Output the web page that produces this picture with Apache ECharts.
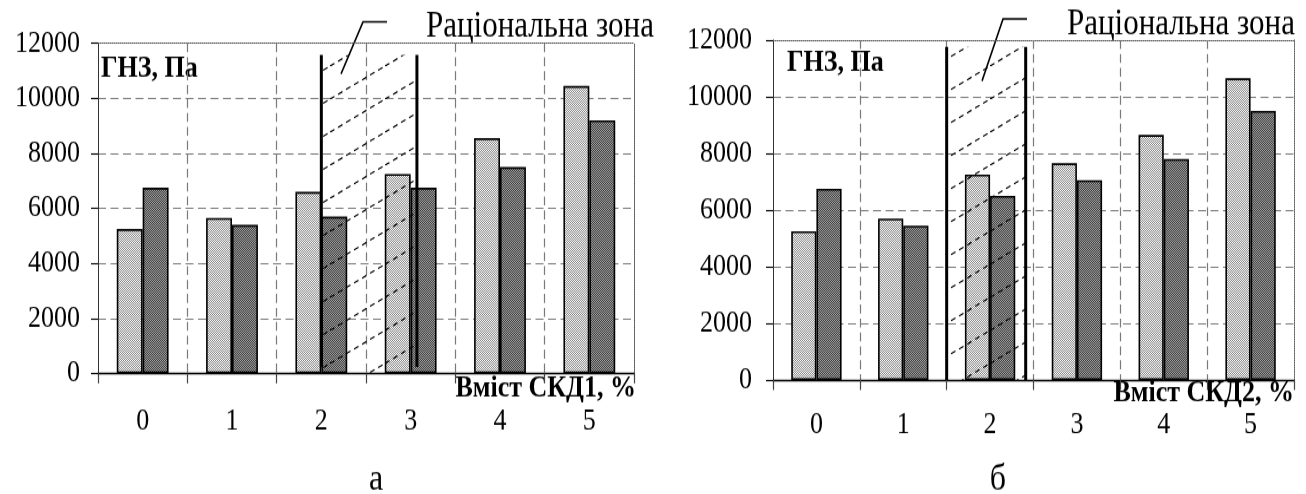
<!DOCTYPE html>
<html>
<head>
<meta charset="utf-8">
<script src="https://cdn.jsdelivr.net/npm/echarts@6/dist/echarts.min.js"></script>
<style>
  html, body { margin: 0; padding: 0; background: #fff; width: 1306px; height: 494px; }
  /* the figure is set in a slightly tall, narrow type: drawn at 1/1.18 height, then stretched */
  #chart { width: 1306px; height: 418.6px; transform: scaleY(1.18); transform-origin: 0 0; }
</style>
</head>
<body>
<div id="chart"></div>
<script>
// Shear stress (ГНЗ, Па) versus additive content, two additives
const categories = ['0', '1', '2', '3', '4', '5'];
const yTicks = { min: 0, max: 12000, step: 2000 };

// СКД1
const skd1First = [5250, 5650, 6600, 7250, 8550, 10450];
const skd1Second = [6750, 5400, 5700, 6750, 7500, 9200];
// СКД2
const skd2First = [5250, 5700, 7250, 7650, 8650, 10650];
const skd2Second = [6750, 5450, 6500, 7050, 7800, 9500];

// rational zone: [from %, to %, hatch bottom, top, boundary line bottom]
const zoneSkd1 = [2.0, 3.07, 0, 11575, 230];
const zoneSkd2 = [1.5, 2.41, 0, 11760, 0];

const FONT = '"Liberation Serif", "Times New Roman", serif';

function makePattern(w, h, draw) {
  const c = document.createElement('canvas');
  c.width = w; c.height = h;
  draw(c.getContext('2d'));
  return { image: c, repeat: 'repeat' };
}

// stippled fills for the two bar series
const lightFill = makePattern(2, 2, ctx => {
  ctx.fillStyle = '#ffffff'; ctx.fillRect(0, 0, 2, 2);
  ctx.fillStyle = '#858585'; ctx.fillRect(0, 0, 1, 1); ctx.fillRect(1, 1, 1, 1);
});
const darkFill = makePattern(2, 2, ctx => {
  ctx.fillStyle = '#a4a4a4'; ctx.fillRect(0, 0, 2, 2);
  ctx.fillStyle = '#3a3a3a'; ctx.fillRect(0, 0, 1, 1); ctx.fillRect(1, 1, 1, 1);
});

// dashed diagonal hatch for the rational zone
const hatchFill = makePattern(55, 28, ctx => {
  ctx.strokeStyle = '#000';
  ctx.lineWidth = 1.2;
  ctx.setLineDash([5, 4]);
  ctx.beginPath();
  ctx.moveTo(0, 28);
  ctx.lineTo(55, 0);
  ctx.stroke();
});

const grids = [
  { left: 98, top: 36.7, width: 536, height: 279.7 },
  { left: 773, top: 33.9, width: 521, height: 288.1 }
];

const dashGray = { color: '#7a7a7a', width: 1.2, type: [8, 4.5] };
const dashGrayV = { color: '#7a7a7a', width: 1.2, type: [7.6, 4.2] };

function axesFor(g, labelMargin, yMargin) {
  const x = [
    {
      type: 'category', gridIndex: g, data: categories, boundaryGap: true,
      axisLine: { show: true, onZero: false, lineStyle: { color: '#000', width: 1.3 } },
      axisTick: { show: true, length: 8.5, lineStyle: { color: '#444', width: 1.2 } },
      axisLabel: { fontFamily: FONT, fontSize: 26, color: '#000', margin: labelMargin },
      splitLine: { show: true, showMinLine: false, showMaxLine: false, lineStyle: dashGrayV },
      z: 3
    },
    {
      type: 'value', gridIndex: g, position: 'top', min: -0.5, max: 5.5,
      axisLine: { show: true, onZero: false, lineStyle: { color: '#555', width: 1, type: 'dotted' } },
      axisTick: { show: false }, axisLabel: { show: false }, splitLine: { show: false }
    }
  ];
  const y = [
    {
      type: 'value', gridIndex: g, min: yTicks.min, max: yTicks.max, interval: yTicks.step,
      axisLine: { show: true, onZero: false, lineStyle: { color: '#333', width: 1 } },
      axisTick: { show: true, length: 7, lineStyle: { color: '#000', width: 1.1 } },
      axisLabel: { fontFamily: FONT, fontSize: 26, color: '#000', margin: yMargin, formatter: v => String(v) },
      splitLine: { show: true, showMinLine: false, showMaxLine: false, lineStyle: dashGray }
    },
    {
      type: 'value', gridIndex: g, position: 'right', min: yTicks.min, max: yTicks.max,
      axisLine: { show: true, onZero: false, lineStyle: { color: '#555', width: 1, type: 'dotted' } },
      axisTick: { show: false }, axisLabel: { show: false }, splitLine: { show: false }
    }
  ];
  return { x, y };
}

const a0 = axesFor(0, 28, 18);
const a1 = axesFor(1, 25, 21);

function barSeries(data, fill, xi, yi) {
  return {
    type: 'bar', data, xAxisIndex: xi, yAxisIndex: yi,
    barGap: '0%', barCategoryGap: '42%',
    itemStyle: { color: fill, borderColor: '#000', borderWidth: 1.6 },
    emphasis: { disabled: true }, z: 2
  };
}

function zoneSeries(zone, xi, yi) {
  return {
    type: 'custom', xAxisIndex: xi, yAxisIndex: yi, z: 5, silent: true,
    data: [zone],
    renderItem(params, api) {
      const x0 = api.value(0), x1 = api.value(1);
      const hb = api.value(2), top = api.value(3), lb = api.value(4);
      const p0 = api.coord([x0, top]);
      const p1 = api.coord([x1, hb]);
      const l0a = api.coord([x0, lb]), l1a = api.coord([x1, lb]);
      const lineStyle = { stroke: '#000', lineWidth: 3 };
      return {
        type: 'group',
        children: [
          { type: 'rect', shape: { x: p0[0], y: p0[1], width: p1[0] - p0[0], height: p1[1] - p0[1] },
            style: { fill: hatchFill, stroke: null } },
          { type: 'line', shape: { x1: l0a[0], y1: l0a[1], x2: p0[0], y2: p0[1] }, style: lineStyle },
          { type: 'line', shape: { x1: l1a[0], y1: l1a[1], x2: p1[0], y2: p0[1] }, style: lineStyle }
        ]
      };
    }
  };
}

function text(x, y, str, size, opts) {
  return {
    type: 'text', x, y, silent: true,
    style: Object.assign({ text: str, fontFamily: FONT, fontSize: size, fill: '#000',
      textAlign: 'left', textVerticalAlign: 'middle' }, opts || {})
  };
}

function leader(points) {
  return { type: 'polyline', silent: true, shape: { points }, style: { stroke: '#000', lineWidth: 1.5, fill: null } };
}

const option = {
  backgroundColor: '#fff',
  animation: false,
  grid: grids,
  xAxis: [...a0.x, ...a1.x.map(a => Object.assign({}, a, { gridIndex: 1 }))],
  yAxis: [...a0.y, ...a1.y.map(a => Object.assign({}, a, { gridIndex: 1 }))],
  series: [
    barSeries(skd1First, lightFill, 0, 0),
    barSeries(skd1Second, darkFill, 0, 0),
    zoneSeries(zoneSkd1, 1, 0),
    barSeries(skd2First, lightFill, 2, 2),
    barSeries(skd2Second, darkFill, 2, 2),
    zoneSeries(zoneSkd2, 3, 2)
  ],
  graphic: [
    text(101, 58.5, 'ГНЗ, Па', 26, { fontWeight: 'bold' }),
    text(787, 53.4, 'ГНЗ, Па', 26, { fontWeight: 'bold' }),
    text(636, 328.8, 'Вміст СКД1, %', 26, { fontWeight: 'bold', textAlign: 'right' }),
    text(1294, 333, 'Вміст СКД2, %', 26, { fontWeight: 'bold', textAlign: 'right' }),
    text(426, 22.9, 'Раціональна зона', 31),
    text(1067, 21.2, 'Раціональна зона', 31),
    leader([[341, 62.7], [363, 18.6], [387, 18.6]]),
    leader([[982, 68.6], [1003, 16.1], [1027, 16.1]]),
    text(376, 406.8, 'а', 32, { textAlign: 'center' }),
    text(998, 406.8, 'б', 32, { textAlign: 'center' })
  ]
};

const chart = echarts.init(document.getElementById('chart'), null, { renderer: 'canvas' });
chart.setOption(option);
</script>
</body>
</html>
